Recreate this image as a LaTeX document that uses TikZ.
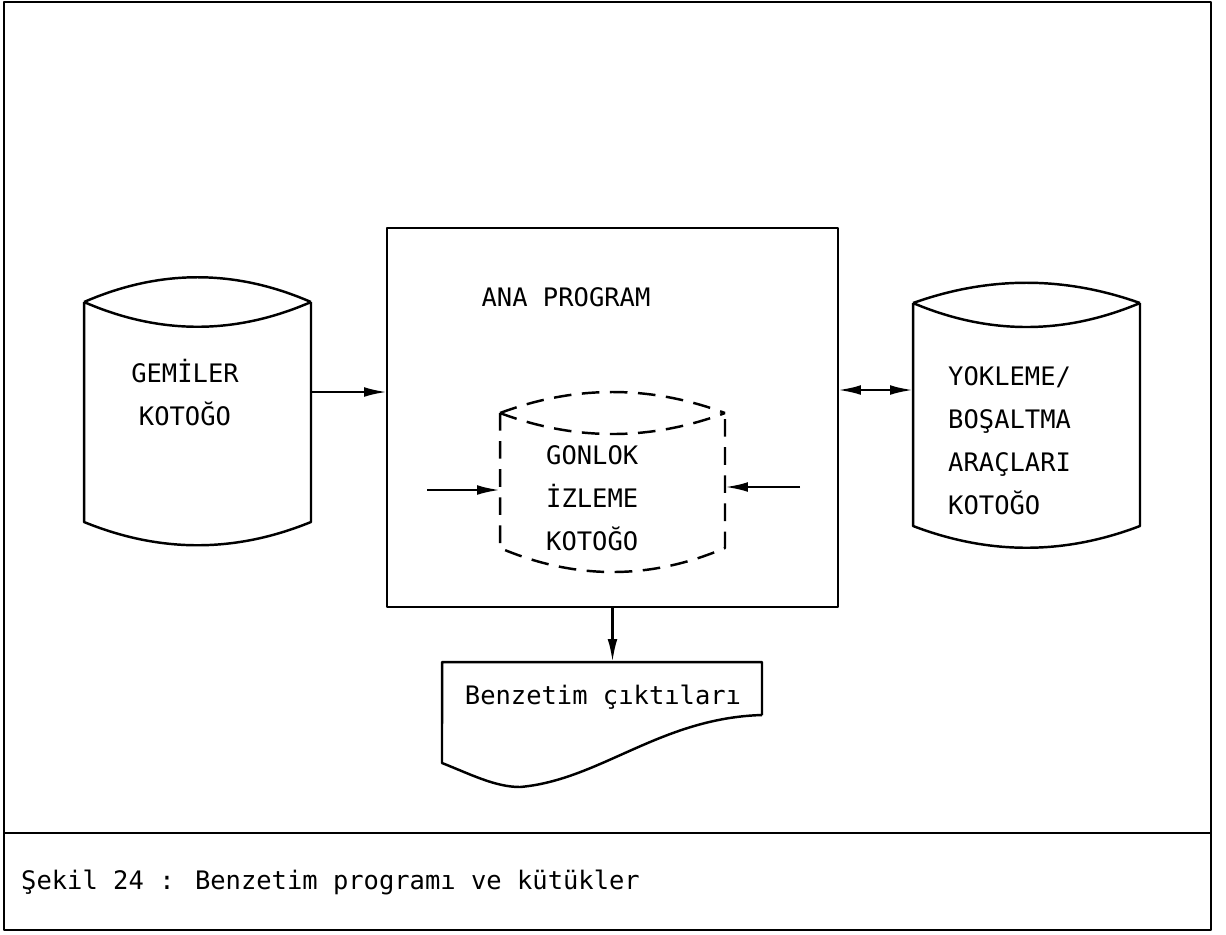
\documentclass[tikz,border=0pt]{standalone}
\usepackage{fontspec}
\setmainfont{DejaVu Sans Mono}
\usetikzlibrary{arrows.meta}
\begin{document}
\begin{tikzpicture}[x=0.02cm,y=-0.02cm,
  line width=1.4pt, line join=round,
  box/.style={inner sep=0pt, outer sep=0pt},
  lbl/.style={inner sep=0pt, font=\fontsize{14.5}{24.5}\selectfont},
  tip/.tip={Latex[length=13pt,width=5.5pt]},
  arr/.style={-tip},
  darr/.style={tip-tip},
  dsh/.style={dash pattern=on 10pt off 6pt}]
\useasboundingbox (0,0) rectangle (1226,934);
% frame
\draw[line width=1.6pt] (4,2) rectangle (1211,930);
\coordinate (divl) at (4,833);
\coordinate (divr) at (1211,833);
\draw (divl) -- (divr);
\node[lbl, anchor=west] (cap) at (20,882) {Şekil 24 : Benzetim programı ve kütükler};

% main program box
\node[box, draw, minimum width=9.02cm, minimum height=7.58cm] (main) at (612.5,417.5) {};
\node[lbl] (ana) at (566,297) {ANA PROGRAM};

% left cylinder
\node[box, minimum width=4.54cm, minimum height=4.40cm] (gem) at (197.5,412) {};
\draw (gem.north west) .. controls (160,269) and (235,269) .. (gem.north east)
      (gem.north west) .. controls (160,335) and (235,335) .. (gem.north east)
      (gem.north west) -- (gem.south west)
      .. controls (160,553) and (235,553) .. (gem.south east) -- (gem.north east);
\node[lbl, align=center] (gemt) at (185,393) {GEMİLER\\KOTOĞO};

% right cylinder
\node[box, minimum width=4.54cm, minimum height=4.46cm] (yuk) at (1026.5,414.5) {};
\draw (yuk.north west) .. controls (989,276) and (1064,276) .. (yuk.north east)
      (yuk.north west) .. controls (989,335) and (1064,335) .. (yuk.north east)
      (yuk.north west) -- (yuk.south west)
      .. controls (989,555) and (1064,555) .. (yuk.south east) -- (yuk.north east);
\node[lbl, align=left, anchor=west] (yukt) at (947,441) {YOKLEME/\\BOŞALTMA\\ARAÇLARI\\KOTOĞO};

% dashed cylinder
\node[box, minimum width=4.5cm, minimum height=2.7cm] (gun) at (612.5,480.5) {};
\draw[dsh] (gun.north west) .. controls (575,385) and (650,385) .. (gun.north east)
      (gun.north west) .. controls (575,441) and (650,441) .. (gun.north east)
      (gun.north west) -- (gun.south west)
      .. controls (575,580) and (650,580) .. (gun.south east) -- (gun.north east);
\node[lbl, align=left, anchor=west] (gunt) at (545,498) {GONLOK\\İZLEME\\KOTOĞO};

% document
\node[box, minimum width=6.4cm, minimum height=1.06cm] (doc) at (602,688.5) {};
\draw (doc.south east) -- (doc.north east) -- (doc.north west) -- (442,763)
      .. controls (470,774) and (495,787) .. (520,787)
      .. controls (600,780) and (660,718) .. (doc.south east);
\node[lbl] (doct) at (603,697) {Benzetim çıktıları};

% connectors
\coordinate (lin) at (427,490);
\coordinate (rin) at (800,487);
\draw[arr] (gem.east |- 0,392) -- (main.west |- 0,392);
\draw[darr] (main.east |- 0,390) -- (yuk.west |- 0,390);
\draw[arr] (lin) -- (gun.west |- lin);
\draw[arr] (rin) -- (gun.east |- rin);
\draw[arr] (main.south) -- (main.south |- doc.north);
\end{tikzpicture}
\end{document}
